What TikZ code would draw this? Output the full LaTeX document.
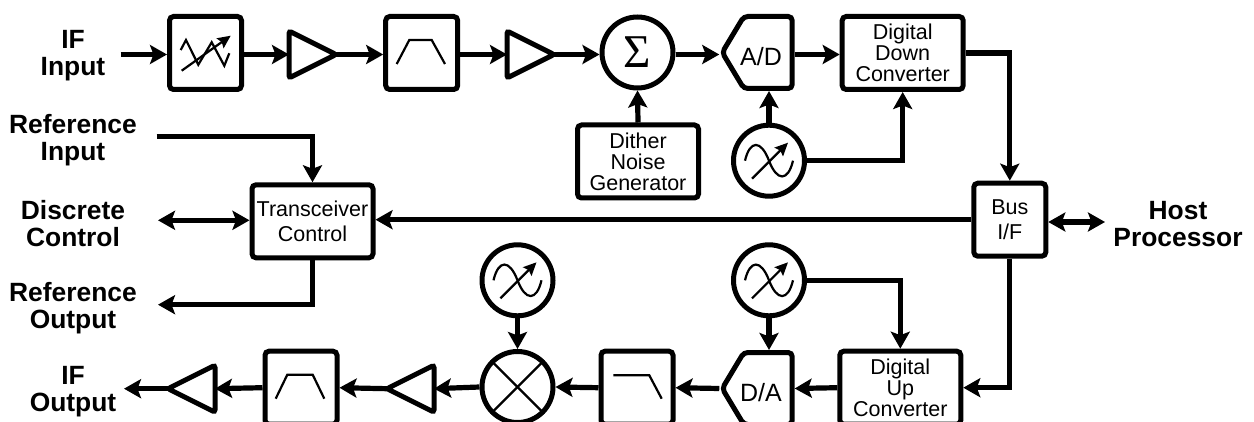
\documentclass[tikz,border=0pt]{standalone}
\usepackage{fontspec}
\setmainfont{Liberation Sans}
\newfontfamily\sigmafont{Liberation Serif}
\usetikzlibrary{arrows.meta,shapes.geometric,shapes.symbols}

\tikzset{
    blockbox/.style={draw, rectangle, line width=5, rounded corners=4, minimum width=#1, minimum height=73,
        inner sep=0, align=center, font=\fontsize{21.5}{21}\selectfont},
    blockbox/.default=72,
    lowtext/.style={execute at begin node={\rule{0pt}{20.5pt}}},
    roundbox/.style={draw, circle, line width=5, minimum size=71, inner sep=0},
    ampbox/.style={draw, isosceles triangle, isosceles triangle stretches, line width=5, rounded corners=2.5,
        minimum width=47, minimum height=47, inner sep=0, outer sep=0},
    convbox/.style={draw, signal, signal to=west, signal pointer angle=118, line width=5, rounded corners=4,
        minimum width=70, minimum height=72, inner sep=0, text height=26pt, text depth=0pt,
        font=\fontsize{25}{25}\selectfont},
    portlabel/.style={align=center, font=\fontsize{26.4}{27}\selectfont\bfseries},
    signalline/.style={line width=5.2, -{Stealth[length=17,width=19,inset=3.5]}},
    busline/.style={line width=5.2, {Stealth[length=17,width=19,inset=3.5]}-{Stealth[length=17,width=19,inset=3.5]}},
    iconline/.style={line width=2.2},
    iconarrow/.style={line width=2.2, -{Stealth[length=13,width=12,inset=2]}}
}

% sine wave with tuning arrow, inside a named oscillator circle
\newcommand{\oscicon}[1]{
    \draw [iconline] ([shift={(-24,0)}]#1.center) .. controls ([shift={(-19,-21)}]#1.center) and ([shift={(-8,-21)}]#1.center)
        .. ([shift={(0,0)}]#1.center) .. controls ([shift={(8,21)}]#1.center) and ([shift={(19,21)}]#1.center)
        .. ([shift={(24,0)}]#1.center);
    \draw [iconarrow] ([shift={(-17,18)}]#1.center) -- ([shift={(19,-18)}]#1.center);
}

\begin{document}
\begin{tikzpicture}[x=1pt, y=-1pt]
    \useasboundingbox (0,0) rectangle (1254,422);
    \clip (0,0) rectangle (1254,422);

    % receive chain
    \node [portlabel] (ifin) at (73,56) {IF\\Input};
    \node [blockbox] (vva) at (205.5,53) {};
    \node [ampbox, anchor=apex] (ampa) at (336,54.5) {};
    \node [blockbox] (bpfa) at (421.7,53) {};
    \node [ampbox, anchor=apex] (ampb) at (554,54.5) {};
    \node [roundbox] (sum) at (637.5,52.5) {\fontsize{47}{47}\selectfont\sigmafont Σ};
    \node [convbox] (adc) at (768,52.5) {\hspace*{-14pt}A/D};
    \node [blockbox=121, lowtext] (ddc) at (902.7,53) {Digital\\Down\\Converter};
    \node [blockbox=121, lowtext] (dither) at (638,161.5) {Dither\\Noise\\Generator};
    \node [roundbox] (losc) at (769,160.7) {};

    % control and bus
    \node [portlabel] (refin) at (73,140) {Reference\\Input};
    \node [portlabel] (discrete) at (73,223.5) {Discrete\\Control};
    \node [portlabel] (refout) at (73,308) {Reference\\Output};
    \node [portlabel] (host) at (1178,224) {Host\\Processor};
    \node [blockbox=121] (xcvr) at (312.5,221.3) {Transceiver\\[4pt]Control};
    \node [blockbox] (bus) at (1009.8,219.7) {Bus\\[4pt]I/F};

    % transmit chain
    \node [portlabel] (ifout) at (73,392) {IF\\Output};
    \node [blockbox=121, lowtext] (duc) at (900.3,387.7) {Digital\\Up\\Converter};
    \node [convbox] (dac) at (768,388.5) {\hspace*{-14pt}D/A};
    \node [blockbox] (lpf) at (637,387.7) {};
    \node [roundbox] (mixer) at (517.5,387) {};
    \node [ampbox, shape border rotate=180, anchor=apex] (ampc) at (387,388.7) {};
    \node [blockbox] (bpfb) at (301,387.7) {};
    \node [ampbox, shape border rotate=180, anchor=apex] (ampd) at (168,388.7) {};
    \node [roundbox] (loscb) at (769,280.3) {};
    \node [roundbox] (loscc) at (517.5,280.3) {};
    \coordinate (ifinend) at (120.7,54.5);
    \coordinate (refinend) at (156.7,136.7);
    \coordinate (discreteend) at (158,220.3);
    \coordinate (refoutend) at (158,304.7);
    \coordinate (hostend) at (1105,222);
    \coordinate (ifoutend) at (124,388.7);

    % block icons
    \draw [iconline] (180.7,50) -- (186,40) -- (198.3,64.7) -- (211.7,42.3) -- (224.3,65.7) -- (229.3,53.3);
    \draw [iconarrow] (181.7,70.7) -- (230.7,35.7);
    \draw [iconline] (396.7,64) -- (409.3,40) -- (431.7,40) -- (445,64);
    \draw [iconline] (275.7,398.7) -- (287.3,374.7) -- (312.7,374.7) -- (324.3,398.7);
    \draw [iconline] (613.3,375.3) -- (649.3,375.3) -- (661.7,398.7);
    \draw [iconline] (mixer.45) -- (mixer.225);
    \draw [iconline] (mixer.135) -- (mixer.315);
    \oscicon{losc}
    \oscicon{loscb}
    \oscicon{loscc}

    % receive connectors
    \draw [signalline] (ifinend) -- ([yshift=-1.5]vva.west);
    \draw [signalline] ([yshift=-1.5]vva.east) -- (ampa.lower side |- ifinend);
    \draw [signalline] (ampa.apex) -- ([yshift=-1.5]bpfa.west);
    \draw [signalline] ([yshift=-1.5]bpfa.east) -- (ampb.lower side |- ifinend);
    \draw [signalline] (ampb.apex) -- ([yshift=-2]sum.west);
    \draw [signalline] ([yshift=-2]sum.east) -- ([yshift=-2]adc.west);
    \draw [signalline] (adc.east |- ifinend) -- ([yshift=-1.5]ddc.west);
    \draw [signalline] (dither.north) -- (sum.south);
    \draw [signalline] (losc.north) -- (losc.north |- adc.south);
    \draw [signalline] (losc.east) -| (ddc.south);
    \draw [signalline] (ddc.east) -| (bus.north);

    % control connectors
    \draw [signalline] (refinend) -| (xcvr.north);
    \draw [busline] (discreteend) -- (xcvr.west |- discreteend);
    \draw [signalline] (xcvr.south) |- (refoutend);
    \draw [signalline] (bus.west) -- (xcvr.east |- bus.west);
    \draw [busline] (bus.east |- hostend) -- (hostend);

    % transmit connectors
    \draw [signalline] (bus.south) |- (duc.east);
    \draw [signalline] (loscb.east) -| (duc.north);
    \draw [signalline] (loscb.south) -- (loscb.south |- dac.north);
    \draw [signalline] (loscc.south) -- (mixer.north);
    \draw [signalline] (duc.west) -- (dac.east);
    \draw [signalline] (dac.west) -- (lpf.east);
    \draw [signalline] (lpf.west) -- (mixer.east);
    \draw [signalline] (mixer.west) -- (ampc.lower side);
    \draw [signalline] (ampc.apex) -- (bpfb.east);
    \draw [signalline] (bpfb.west) -- (ampd.lower side);
    \draw [signalline] (ampd.apex) -- (ifoutend);
\end{tikzpicture}
\end{document}
